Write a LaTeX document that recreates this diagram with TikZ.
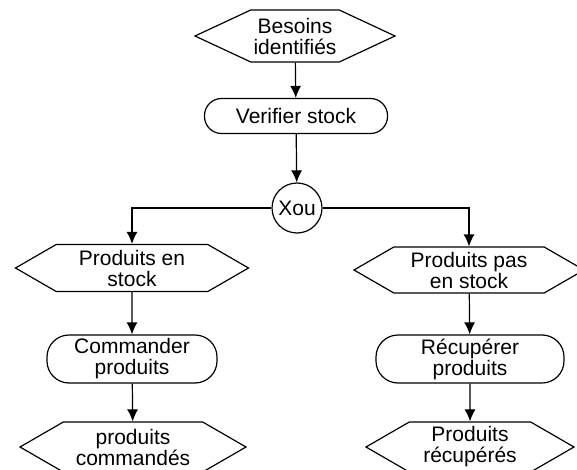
\documentclass[tikz,border=0pt]{standalone}
\usepackage{fontspec}
\setmainfont{Liberation Sans}
\usetikzlibrary{shapes.symbols,arrows.meta}

\begin{document}
\begin{tikzpicture}[x=0.5pt,y=-0.5pt,
hexa/.style={draw, signal, signal to=west and east, signal pointer angle=60, align=center, inner sep=0pt, font=\fontsize{10.5}{10.5}\selectfont},
tache/.style={draw, rounded corners=11pt, align=center, inner sep=0pt, font=\fontsize{10.5}{10.5}\selectfont},
fl/.style={-{Latex[length=6pt,width=5.5pt]}}, line width=0.6pt]
\useasboundingbox (0,0) rectangle (577,470);
\node[hexa, minimum width=100pt, minimum height=26pt, signal pointer angle=50] (besoins) at (295,36) {Besoins\\identifiés};
\node[tache, rounded corners=8.5pt, minimum width=91.5pt, minimum height=17.5pt] (verif) at (296,116) {Verifier stock};
\node[draw, circle, minimum size=25pt, inner sep=0pt, font=\fontsize{10.5}{10.5}\selectfont] (xou) at (297,208) {Xou};
\node[hexa, minimum width=116.5pt, minimum height=23.5pt] (stockL) at (132,268) {Produits en\\stock};
\node[tache, minimum width=85pt, minimum height=24pt] (cmd) at (132,359) {Commander\\produits};
\node[hexa, minimum width=113pt, minimum height=25pt] (cmdes) at (133,447) {produits\\commandés};
\node[hexa, minimum width=115pt, minimum height=23pt] (stockR) at (469,270) {Produits pas\\en stock};
\node[tache, minimum width=94pt, minimum height=24pt] (recup) at (470,359) {Récupérer\\produits};
\node[hexa, minimum width=104pt, minimum height=25pt] (recupes) at (470,447) {Produits\\récupérés};
\foreach \a/\b in {besoins/verif, verif/xou, stockL/cmd, cmd/cmdes, stockR/recup, recup/recupes}
{	\draw[fl] (\a) -- (\b);
}
\draw[fl] (xou.west) -| (stockL.north);
\draw[fl] (xou.east) -| (stockR.north);
\end{tikzpicture}
\end{document}
